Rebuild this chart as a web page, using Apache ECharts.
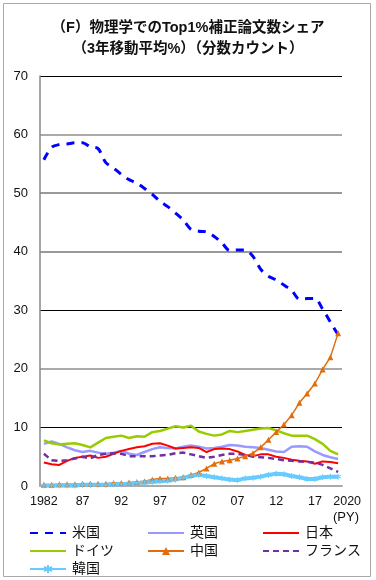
<!DOCTYPE html>
<html>
<head>
<meta charset="utf-8">
<script src="https://cdn.jsdelivr.net/npm/echarts@6/dist/echarts.min.js"></script>
<style>
  html, body { margin: 0; padding: 0; background: #fff; }
  #chart { width: 376px; height: 580px; }
</style>
</head>
<body>
<div id="chart"></div>
<script>
// 3年移動平均 Top1%補正論文数シェア (物理学)
const years = ['1982','1983','1984','1985','1986','1987','1988','1989','1990','1991',
  '1992','1993','1994','1995','1996','1997','1998','1999','2000','2001',
  '2002','2003','2004','2005','2006','2007','2008','2009','2010','2011',
  '2012','2013','2014','2015','2016','2017','2018','2019','2020'];

const tickYears = ['1982','1987','1992','1997','2002','2007','2012','2017','2020'];
const tickText  = ['1982','87','92','97','02','07','12','17','2020'];

const usa = [55.7,57.8,58.3,58.4,58.6,58.6,57.9,57.6,55.2,54.3,
  53.2,52.3,51.7,50.8,49.8,48.6,47.7,46.6,45.4,43.8,
  43.5,43.4,42.6,41.5,40.2,40.3,40.3,39.2,37.0,35.8,
  35.2,34.3,33.4,31.9,32.0,32.0,30.2,28.0,25.8];

const uk = [7.2,7.6,7.2,6.6,6.1,5.8,6.0,5.7,5.5,5.7,
  6.0,5.5,5.3,5.8,6.3,6.6,6.5,6.4,6.7,6.9,
  6.7,6.4,6.5,6.7,7.0,6.9,6.7,6.6,6.5,6.2,
  5.9,5.8,6.7,6.8,6.7,5.9,5.3,4.9,4.6];

const japan = [4.0,3.7,3.6,4.3,4.8,5.0,5.2,4.8,5.0,5.5,
  6.0,6.3,6.6,6.8,7.2,7.3,6.9,6.4,6.5,6.6,
  6.5,5.8,6.3,6.4,6.3,5.9,5.3,5.1,5.4,5.4,
  5.0,4.8,4.5,4.3,4.2,3.8,4.2,4.1,3.9];

const germany = [7.8,7.3,7.1,7.2,7.3,7.0,6.6,7.4,8.2,8.4,
  8.6,8.2,8.5,8.4,9.2,9.4,9.8,10.2,10.0,10.3,
  9.3,8.9,8.6,8.8,9.4,9.2,9.4,9.6,9.8,9.9,
  9.5,9.0,8.6,8.6,8.6,8.0,7.2,6.0,5.4];

const china = [0.2,0.2,0.3,0.3,0.3,0.4,0.4,0.4,0.4,0.5,
  0.5,0.6,0.7,0.8,1.1,1.3,1.3,1.4,1.5,1.9,
  2.3,3.0,3.8,4.2,4.4,4.7,5.1,5.6,6.6,7.9,
  9.2,10.5,12.1,14.2,15.8,17.5,19.9,22.0,26.1];

const france = [5.5,4.4,4.3,4.4,4.7,5.0,4.7,5.3,5.5,5.6,
  5.5,5.1,5.1,5.1,5.1,5.2,5.3,5.6,5.7,5.4,
  5.1,4.8,5.0,5.3,5.5,5.5,5.3,5.0,4.9,4.8,
  4.6,4.4,4.3,4.2,4.1,4.0,3.6,3.0,2.4];

const korea = [0.1,0.1,0.1,0.1,0.1,0.2,0.2,0.2,0.2,0.3,
  0.3,0.4,0.5,0.6,0.7,0.8,0.9,1.1,1.4,1.7,
  1.9,1.7,1.5,1.3,1.1,1.0,1.3,1.4,1.6,1.9,
  2.1,2.0,1.7,1.5,1.2,1.2,1.5,1.6,1.6];

const font = '"Liberation Sans", "Noto Sans CJK JP", sans-serif';
const asterisk = 'path://M0,-5L0,5M-4.3,-2.5L4.3,2.5M-4.3,2.5L4.3,-2.5';

const chart = echarts.init(document.getElementById('chart'));

// name, left, top, has marker
const legendPos = [
  ['米国', 29, 526, false], ['英国', 147, 526, false], ['日本', 262, 526, false],
  ['ドイツ', 29, 544, false], ['中国', 147, 544, true], ['フランス', 262, 544, false],
  ['韓国', 29, 562, true]
];

const option = {
  animation: false,
  textStyle: { fontFamily: font },
  title: {
    text: '（F）物理学でのTop1%補正論文数シェア\n（3年移動平均%）（分数カウント）',
    left: 'center',
    top: 12,
    textStyle: { fontSize: 14.5, fontWeight: 'bold', color: '#111', lineHeight: 21, fontFamily: font }
  },
  legend: legendPos.map(([name, x, y, mark]) => ({
    data: [name],
    left: x,
    top: y,
    padding: 0,
    itemWidth: 36,
    itemHeight: mark ? 10 : 14,
    itemGap: 4,
    selectedMode: false,
    itemStyle: mark ? {} : { opacity: 0 },
    textStyle: { fontSize: 14, color: '#111', padding: [0, 0, 0, 1], fontFamily: font }
  })),
  grid: { left: 40, right: 34, top: 76, bottom: 94 },
  xAxis: {
    type: 'category',
    data: years,
    boundaryGap: true,
    axisLine: { show: true, lineStyle: { color: '#aaa', width: 2 } },
    axisTick: { show: false },
    axisLabel: {
      interval: (i, v) => tickYears.indexOf(v) >= 0,
      margin: 9,
      fontSize: 12.5,
      color: '#111',
      formatter: v => {
        const t = tickText[tickYears.indexOf(v)];
        return v === '2020' ? '{r|' + t + '}' : t;
      },
      rich: { r: { fontSize: 12.5, color: '#111', padding: [0, 0, 0, 18] } }
    }
  },
  yAxis: [
    {
      type: 'value', min: 0, max: 70, interval: 10,
      axisLine: { show: true, lineStyle: { color: '#888', width: 1.5 } },
      axisTick: { show: false },
      axisLabel: { fontSize: 13, color: '#111', margin: 12 },
      splitLine: { lineStyle: { width: 2, color: ['#aaa', 'rgba(0,0,0,0)', '#aaa', 'rgba(0,0,0,0)', '#999', '#999', '#aaa', 'rgba(0,0,0,0)'] } }
    },
    {
      type: 'value', min: 0, max: 70, interval: 10, position: 'left',
      axisLine: { show: false }, axisTick: { show: false }, axisLabel: { show: false },
      splitLine: { lineStyle: { width: 1, color: ['rgba(0,0,0,0)', '#000', 'rgba(0,0,0,0)', '#000', 'rgba(0,0,0,0)', 'rgba(0,0,0,0)', 'rgba(0,0,0,0)', '#000'] } }
    }
  ],
  graphic: [
    { type: 'text', left: 333, top: 511, style: { text: '(PY)', fontSize: 13, fill: '#111', fontFamily: font } },
    { type: 'rect', shape: { x: 3.5, y: 3.5, width: 367, height: 573 }, style: { fill: 'none', stroke: '#aaa', lineWidth: 1 }, silent: true }
  ],
  series: [
    { name: '米国', type: 'line', data: usa, symbol: 'none', smooth: 0.3,
      lineStyle: { color: '#0000ff', width: 3, type: [8, 7] }, itemStyle: { color: '#0000ff' } },
    { name: '英国', type: 'line', data: uk, symbol: 'none',
      lineStyle: { color: '#9999ff', width: 2.5 }, itemStyle: { color: '#9999ff' } },
    { name: '日本', type: 'line', data: japan, symbol: 'none',
      lineStyle: { color: '#ff0000', width: 2 }, itemStyle: { color: '#ff0000' } },
    { name: 'ドイツ', type: 'line', data: germany, symbol: 'none',
      lineStyle: { color: '#99cc00', width: 2.5 }, itemStyle: { color: '#99cc00' } },
    { name: '中国', type: 'line', data: china, symbol: 'triangle', symbolSize: 6, showAllSymbol: true,
      lineStyle: { color: '#e46c0a', width: 1.5 }, itemStyle: { color: '#e46c0a' } },
    { name: 'フランス', type: 'line', data: france, symbol: 'none',
      lineStyle: { color: '#7030a0', width: 2.5, type: [6, 4] }, itemStyle: { color: '#7030a0' } },
    { name: '韓国', type: 'line', data: korea, symbol: asterisk, symbolSize: 6, showAllSymbol: true,
      lineStyle: { color: '#66ccff', width: 4 },
      itemStyle: { color: '#66ccff', borderColor: '#66ccff', borderWidth: 1 } }
  ]
};

chart.setOption(option);
</script>
</body>
</html>
